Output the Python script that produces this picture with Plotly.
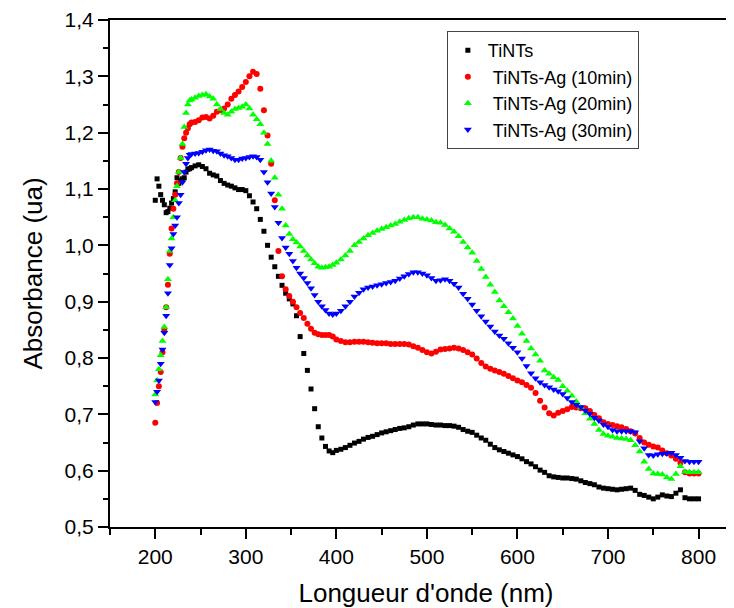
import plotly.graph_objects as go

# wavelength grid (nm): finer where the spectra are steep
wavelength = list(range(200, 241, 2)) + list(range(244, 401, 4)) + list(range(405, 801, 5))

y_ticks = [0.5, 0.6, 0.7, 0.8, 0.9, 1.0, 1.1, 1.2, 1.3, 1.4]
y_labels = ["0,5", "0,6", "0,7", "0,8", "0,9", "1,0", "1,1", "1,2", "1,3", "1,4"]
x_ticks = [200, 300, 400, 500, 600, 700, 800]

tints = [
    1.08, 1.118, 1.105, 1.09, 1.08, 1.072, 1.058, 1.06, 1.066, 1.075, 1.083, 1.095, 1.12, 1.11, 1.115, 1.118, 1.12, 1.13, 1.135, 1.136, 1.138,
    1.141, 1.143, 1.140, 1.136, 1.128, 1.125, 1.123, 1.115, 1.110, 1.107, 1.105, 1.102, 1.099, 1.099, 1.097, 1.088, 1.077, 1.065, 1.046, 1.025,
    1.000, 0.979, 0.962, 0.945, 0.929, 0.915, 0.905, 0.896, 0.875, 0.838, 0.808, 0.778, 0.745, 0.710, 0.678, 0.658, 0.643, 0.635, 0.632, 0.636,
    0.638, 0.641, 0.645, 0.649, 0.652, 0.656, 0.659, 0.661, 0.664, 0.667, 0.669, 0.671, 0.673, 0.675, 0.676, 0.678, 0.681, 0.683, 0.683, 0.683,
    0.682, 0.681, 0.681, 0.680, 0.680, 0.679, 0.677, 0.673, 0.670, 0.668, 0.663, 0.658, 0.654, 0.647, 0.641, 0.637, 0.634, 0.631, 0.628, 0.625,
    0.621, 0.616, 0.612, 0.607, 0.601, 0.597, 0.591, 0.589, 0.588, 0.587, 0.587, 0.586, 0.585, 0.582, 0.579, 0.577, 0.575, 0.571, 0.569, 0.568,
    0.567, 0.566, 0.567, 0.568, 0.569, 0.565, 0.558, 0.556, 0.553, 0.550, 0.553, 0.557, 0.555, 0.554, 0.560, 0.566, 0.552, 0.550, 0.550, 0.550,
]

ag10 = [
    0.685, 0.72, 0.75, 0.775, 0.81, 0.85, 0.89, 0.93, 0.985, 1.03, 1.065, 1.09, 1.11, 1.13, 1.155, 1.175, 1.19, 1.2, 1.208, 1.215, 1.218,
    1.219, 1.222, 1.227, 1.228, 1.225, 1.23, 1.237, 1.24, 1.243, 1.25, 1.26, 1.267, 1.273, 1.281, 1.29, 1.30, 1.308, 1.304, 1.278, 1.24,
    1.195, 1.145, 1.08, 0.99, 0.945, 0.922, 0.91, 0.9, 0.89, 0.88, 0.871, 0.861, 0.852, 0.845, 0.842, 0.841, 0.841, 0.841, 0.838, 0.833,
    0.830, 0.828, 0.828, 0.829, 0.829, 0.829, 0.828, 0.827, 0.826, 0.826, 0.826, 0.825, 0.825, 0.825, 0.825, 0.824, 0.821, 0.818, 0.814, 0.81,
    0.808, 0.811, 0.815, 0.816, 0.817, 0.818, 0.817, 0.814, 0.81, 0.806, 0.799, 0.791, 0.785, 0.781, 0.778, 0.775, 0.772, 0.768, 0.764, 0.76,
    0.757, 0.752, 0.747, 0.738, 0.724, 0.712, 0.702, 0.698, 0.703, 0.706, 0.709, 0.713, 0.712, 0.711, 0.711, 0.706, 0.699, 0.693, 0.686, 0.683,
    0.681, 0.679, 0.677, 0.674, 0.670, 0.666, 0.658, 0.650, 0.646, 0.643, 0.641, 0.636, 0.631, 0.627, 0.621, 0.614, 0.597, 0.595, 0.595, 0.595,
]

ag20 = [
    0.735, 0.76, 0.78, 0.805, 0.83, 0.855, 0.89, 0.94, 0.99, 1.012, 1.05, 1.08, 1.105, 1.13, 1.155, 1.18, 1.21, 1.235, 1.25, 1.257, 1.259,
    1.262, 1.265, 1.267, 1.268, 1.264, 1.26, 1.25, 1.242, 1.235, 1.232, 1.237, 1.242, 1.244, 1.246, 1.25, 1.243, 1.232, 1.224, 1.215, 1.2,
    1.18, 1.15, 1.12, 1.09, 1.065, 1.035, 1.02, 1.011, 1.005, 0.998, 0.99, 0.982, 0.975, 0.968, 0.962, 0.96, 0.961, 0.962, 0.965, 0.969,
    0.975, 0.982, 0.99, 1.0, 1.006, 1.012, 1.018, 1.022, 1.026, 1.029, 1.032, 1.035, 1.038, 1.042, 1.045, 1.048, 1.05, 1.05, 1.047, 1.046,
    1.044, 1.041, 1.04, 1.036, 1.03, 1.024, 1.016, 1.006, 0.996, 0.987, 0.972, 0.958, 0.944, 0.93, 0.917, 0.902, 0.892, 0.881, 0.87, 0.857,
    0.843, 0.83, 0.817, 0.806, 0.795, 0.778, 0.772, 0.766, 0.761, 0.75, 0.742, 0.733, 0.723, 0.712, 0.702, 0.692, 0.683, 0.672, 0.665, 0.662,
    0.66, 0.658, 0.657, 0.656, 0.654, 0.645, 0.634, 0.616, 0.603, 0.595, 0.594, 0.593, 0.588, 0.585, 0.594, 0.608, 0.598, 0.597, 0.597, 0.597,
]

ag30 = [
    0.722, 0.74, 0.76, 0.79, 0.815, 0.845, 0.875, 0.915, 0.965, 0.995, 1.02, 1.035, 1.05, 1.075, 1.09, 1.112, 1.13, 1.145, 1.155, 1.161, 1.162,
    1.163, 1.164, 1.166, 1.169, 1.170, 1.168, 1.167, 1.163, 1.16, 1.158, 1.155, 1.152, 1.152, 1.154, 1.155, 1.157, 1.158, 1.157, 1.152, 1.13,
    1.112, 1.092, 1.068, 1.04, 1.013, 0.996, 0.985, 0.972, 0.96, 0.95, 0.942, 0.933, 0.924, 0.912, 0.9, 0.892, 0.885, 0.879, 0.877, 0.879,
    0.884, 0.892, 0.9, 0.909, 0.916, 0.922, 0.925, 0.927, 0.929, 0.931, 0.933, 0.935, 0.937, 0.941, 0.945, 0.949, 0.952, 0.952, 0.95, 0.947,
    0.942, 0.937, 0.938, 0.94, 0.937, 0.932, 0.925, 0.914, 0.905, 0.895, 0.884, 0.874, 0.865, 0.856, 0.847, 0.84, 0.834, 0.826, 0.818, 0.81,
    0.799, 0.786, 0.773, 0.764, 0.757, 0.752, 0.748, 0.744, 0.741, 0.736, 0.729, 0.722, 0.717, 0.713, 0.707, 0.701, 0.694, 0.689, 0.682, 0.678,
    0.672, 0.67, 0.67, 0.67, 0.67, 0.668, 0.652, 0.64, 0.628, 0.627, 0.629, 0.63, 0.631, 0.632, 0.628, 0.623, 0.617, 0.616, 0.616, 0.616,
]

series = [
    ("TiNTs", tints, "#000000", "square", 5),
    ("\u00a0TiNTs-Ag (10min)", ag10, "#ff0000", "circle", 6),
    ("\u00a0TiNTs-Ag (20min)", ag20, "#00ff00", "triangle-up", 7),
    ("\u00a0TiNTs-Ag (30min)", ag30, "#0000ff", "triangle-down", 7),
]

fig = go.Figure()
for name, vals, color, symbol, size in series:
    fig.add_trace(go.Scatter(
        x=wavelength, y=vals, name=name, mode="markers",
        marker=dict(color=color, symbol=symbol, size=size, line=dict(width=0)),
    ))

font_family = "Liberation Sans, Arial, sans-serif"

# the page body adds an 8px offset, so margins are trimmed to line up the axes
fig.update_layout(
    width=734, height=608,
    margin=dict(l=102, r=0, t=8, b=89),
    plot_bgcolor="white", paper_bgcolor="white",
    font=dict(family=font_family, size=21, color="#000000"),
    showlegend=True,
    legend=dict(
        x=0.533, y=0.978, xanchor="left", yanchor="top",
        bgcolor="white", bordercolor="#444444", borderwidth=1,
        font=dict(family=font_family, size=18, color="#000000"),
        tracegroupgap=0,
    ),
)

fig.update_xaxes(
    range=[150, 848], tickmode="array", tickvals=x_ticks,
    showline=True, linecolor="black", linewidth=2, mirror=True,
    ticks="outside", ticklen=10, tickwidth=2, tickcolor="black",
    minor=dict(ticks="outside", ticklen=6, tickwidth=2, tickcolor="black", dtick=50, tick0=150),
    showgrid=False, zeroline=False,
    tickfont=dict(size=21), ticklabeloverflow="allow",
    title=dict(text="Longueur d'onde (nm)", font=dict(size=26), standoff=17),
)
fig.update_yaxes(
    range=[0.5, 1.4], tickmode="array", tickvals=y_ticks, ticktext=y_labels,
    showline=True, linecolor="black", linewidth=2, mirror=False,
    ticks="outside", ticklen=10, tickwidth=2, tickcolor="black",
    minor=dict(ticks="outside", ticklen=5, tickwidth=2, tickcolor="black", dtick=0.05, tick0=0.5),
    showgrid=False, zeroline=False,
    tickfont=dict(size=21), ticklabeloverflow="allow",
    title=dict(text="Absorbance (ua)", font=dict(size=26), standoff=14),
)

fig.write_html("out.html")
